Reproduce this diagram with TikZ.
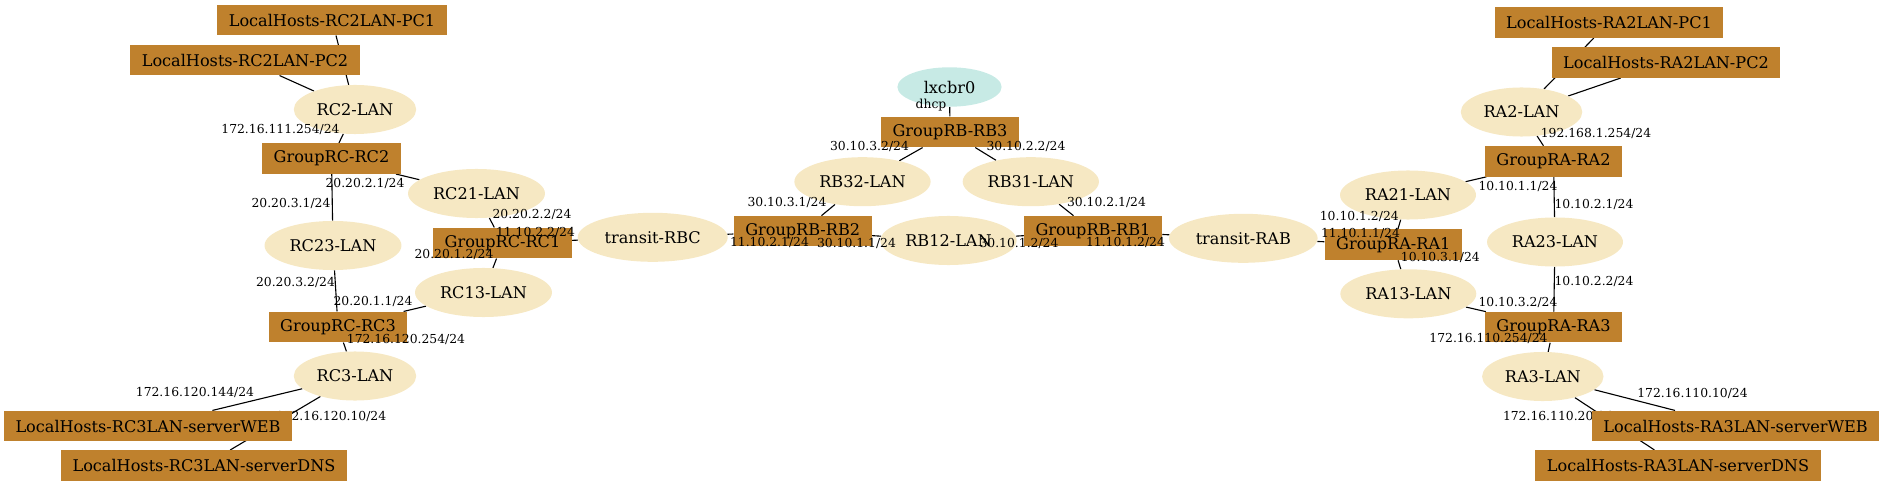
\documentclass[tikz,border=0pt]{standalone}
\usepackage{fontspec}
\setmainfont{DejaVu Serif}
\usepackage{tikz}
\usetikzlibrary{shapes.geometric, backgrounds}

\definecolor{boxbrown}{HTML}{BF812D}
\definecolor{lanbeige}{HTML}{F6E8C3}
\definecolor{dhcpteal}{HTML}{C7EAE5}
\newcommand{\nodefont}{\fontsize{11.6}{13}\selectfont}
\newcommand{\ipfont}{\fontsize{8.9}{10}\selectfont}

\begin{document}
\begin{tikzpicture}[
        x=0.72pt, y=-0.72pt,
        router/.style={rectangle, fill=boxbrown, minimum height=22pt, inner xsep=8.3pt, inner ysep=0pt, font=\nodefont},
        lan/.style={ellipse, fill=lanbeige, minimum height=35.3pt, inner xsep=3.6pt, inner ysep=0pt, font=\nodefont},
        bridge/.style={ellipse, fill=dhcpteal, minimum width=75pt, minimum height=28.4pt, inner sep=0pt, font=\nodefont},
        edge/.style={line width=0.8pt},
        ip/.style={font=\ipfont, inner sep=0pt, text height=6.4pt, text depth=0pt}
    ]
        \useasboundingbox (0,0) rectangle (1884,486);

        % 左侧 RC
        \path
            (332,20)      node[router] (rc2pc1) {LocalHosts-RC2LAN-PC1}
            (245,60)      node[router] (rc2pc2) {LocalHosts-RC2LAN-PC2}
            (355,109.5)   node[lan]    (rc2lan) {RC2-LAN}
            (331.5,158.5) node[router] (rc2)    {GroupRC-RC2}
            (476.5,193.5) node[lan]    (rc21lan) {RC21-LAN}
            (333,245.5)   node[lan]    (rc23lan) {RC23-LAN}
            (502.5,243)   node[router] (rc1)    {GroupRC-RC1}
            (483.5,292.5) node[lan]    (rc13lan) {RC13-LAN}
            (338,327)     node[router] (rc3)    {GroupRC-RC3}
            (355,376)     node[lan]    (rc3lan) {RC3-LAN}
            (148,426)     node[router] (rc3web) {LocalHosts-RC3LAN-serverWEB}
            (204,465.5)   node[router] (rc3dns) {LocalHosts-RC3LAN-serverDNS};

        % 中间 RB
        \path
            (652.7,237.3) node[lan]    (transrbc) {transit-RBC}
            (802.7,231.2) node[router] (rb2)    {GroupRB-RB2}
            (948.5,240.5) node[lan]    (rb12lan) {RB12-LAN}
            (1093,231.2)  node[router] (rb1)    {GroupRB-RB1}
            (862.5,181.7) node[lan]    (rb32lan) {RB32-LAN}
            (1030.8,181.7) node[lan]   (rb31lan) {RB31-LAN}
            (950,132)     node[router] (rb3)    {GroupRB-RB3}
            (949.5,87)    node[bridge] (lxcbr)  {lxcbr0}
            (1243.3,238.3) node[lan]   (transrab) {transit-RAB};

        % 右侧 RA
        \path
            (1393.3,244.7) node[router] (ra1)    {GroupRA-RA1}
            (1408,195)     node[lan]    (ra21lan) {RA21-LAN}
            (1408.3,293.8) node[lan]    (ra13lan) {RA13-LAN}
            (1553.5,161.3) node[router] (ra2)    {GroupRA-RA2}
            (1521.5,112)   node[lan]    (ra2lan) {RA2-LAN}
            (1609,22.5)    node[router] (ra2pc1) {LocalHosts-RA2LAN-PC1}
            (1666,62.5)    node[router] (ra2pc2) {LocalHosts-RA2LAN-PC2}
            (1555,242)     node[lan]    (ra23lan) {RA23-LAN}
            (1553.5,327.2) node[router] (ra3)    {GroupRA-RA3}
            (1542.8,376.5) node[lan]    (ra3lan) {RA3-LAN}
            (1735.6,426)   node[router] (ra3web) {LocalHosts-RA3LAN-serverWEB}
            (1678,465.5)   node[router] (ra3dns) {LocalHosts-RA3LAN-serverDNS};

        % 连线
        \begin{scope}[on background layer]
            \draw[edge] (rc2pc1) -- (rc2lan);
            \draw[edge] (rc2pc2) -- (rc2lan);
            \draw[edge] (rc2lan) -- (rc2);
            \draw[edge] (rc2) -- (rc21lan);
            \draw[edge] (rc2) -- (rc23lan);
            \draw[edge] (rc21lan) -- (rc1);
            \draw[edge] (rc23lan) -- (rc3);
            \draw[edge] (rc1) -- (rc13lan);
            \draw[edge] (rc13lan) -- (rc3);
            \draw[edge] (rc3) -- (rc3lan);
            \draw[edge] (rc3lan) -- (rc3web);
            \draw[edge] (rc3lan) -- (rc3dns);
            \node[ip, anchor=east] (ipdnsc) at (386.5,415.7) {172.16.120.10/24};
            \draw[edge] (rc1) -- (transrbc);
            \draw[edge] (transrbc) -- (rb2);
            \draw[edge] (rb2) -- (rb32lan);
            \draw[edge] (rb2) -- (rb12lan);
            \draw[edge] (rb12lan) -- (rb1);
            \draw[edge] (rb1) -- (rb31lan);
            \draw[edge] (rb32lan) -- (rb3);
            \draw[edge] (rb31lan) -- (rb3);
            \draw[edge] (rb3) -- (lxcbr);
            \draw[edge] (rb1) -- (transrab);
            \draw[edge] (transrab) -- (ra1);
            \draw[edge] (ra1) -- (ra21lan);
            \draw[edge] (ra1) -- (ra13lan);
            \draw[edge] (ra21lan) -- (ra2);
            \draw[edge] (ra13lan) -- (ra3);
            \draw[edge] (ra2) -- (ra2lan);
            \draw[edge] (ra2) -- (ra23lan);
            \draw[edge] (ra23lan) -- (ra3);
            \draw[edge] (ra3) -- (ra3lan);
            \draw[edge] (ra2lan) -- (ra2pc1);
            \draw[edge] (ra2lan) -- (ra2pc2);
            \draw[edge] (ra3lan) -- (ra3web);
            \draw[edge] (ra3lan) -- (ra3dns);
            \node[ip, anchor=west] (ipdnsa) at (1502.7,415.7) {172.16.110.20/24};
        \end{scope}

        % 地址标注
        \node[ip] (iprc2a) at (280.5,129.3) {172.16.111.254/24};
        \node[ip] (iprc2b) at (365,183.3)   {20.20.2.1/24};
        \node[ip] (iprc2c) at (291,203.3)   {20.20.3.1/24};
        \node[ip] (iprc1a) at (532,214.3)   {20.20.2.2/24};
        \node[ip] (iprc1b) at (535.5,232.3) {11.10.2.2/24};
        \node[ip] (iprc1c) at (454,254.3)   {20.20.1.2/24};
        \node[ip] (iprc3a) at (295.5,282.3) {20.20.3.2/24};
        \node[ip] (iprc3b) at (373,300.7)   {20.20.1.1/24};
        \node[ip] (iprc3c) at (406,339.3)   {172.16.120.254/24};
        \node[ip] (ipwebc) at (195,391.7)   {172.16.120.144/24};
        \node[ip] (ipdhcp) at (931,104.3)   {dhcp};
        \node[ip] (iprb3a) at (869.5,145.7) {30.10.3.2/24};
        \node[ip] (iprb3b) at (1026,145.7)  {30.10.2.2/24};
        \node[ip] (iprb2a) at (787,201.7)   {30.10.3.1/24};
        \node[ip] (iprb1a) at (1106.5,201.7) {30.10.2.1/24};
        \node[ip] (iprb2b) at (769.5,241.7) {11.10.2.1/24};
        \node[ip] (iprb2c) at (856.5,242.7) {30.10.1.1/24};
        \node[ip] (iprb1b) at (1019,242.7)  {30.10.1.2/24};
        \node[ip] (iprb1c) at (1125.5,241.7) {11.10.1.2/24};
        \node[ip] (ipra1a) at (1359.3,215.7) {10.10.1.2/24};
        \node[ip] (ipra1b) at (1360.5,233.3) {11.10.1.1/24};
        \node[ip] (ipra1c) at (1440.3,256.7) {10.10.3.1/24};
        \node[ip] (ipra2a) at (1596,133.3)  {192.168.1.254/24};
        \node[ip] (ipra2b) at (1518,185.7)  {10.10.1.1/24};
        \node[ip] (ipra2c) at (1594,204)    {10.10.2.1/24};
        \node[ip] (ipra3a) at (1594,280.7)  {10.10.2.2/24};
        \node[ip] (ipra3b) at (1518,301.7)  {10.10.3.2/24};
        \node[ip] (ipra3c) at (1488.5,338.3) {172.16.110.254/24};
        \node[ip] (ipweba) at (1692.5,392.7) {172.16.110.10/24};
    \end{tikzpicture}
\end{document}
